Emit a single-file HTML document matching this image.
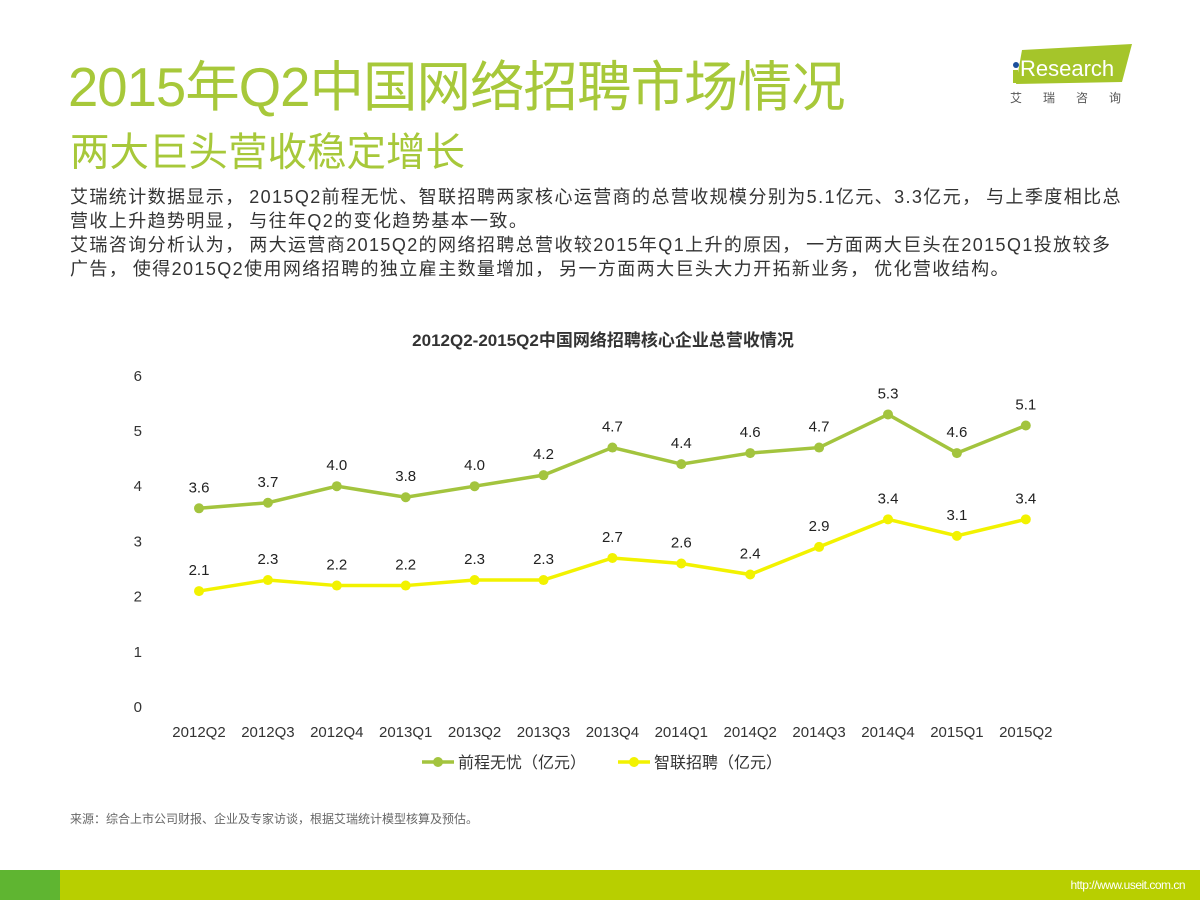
<!DOCTYPE html>
<html><head><meta charset="utf-8"><style>
body{margin:0;width:1200px;height:900px;position:relative;background:#fff;font-family:"Liberation Sans","Noto Sans CJK SC",sans-serif;overflow:hidden}
.t1{position:absolute;left:68px;top:43px;font-size:54.5px;color:#a7c83a;letter-spacing:-1px;white-space:nowrap}
.t2{position:absolute;left:70px;top:121px;font-size:39.5px;color:#a7c83a;white-space:nowrap}
.body{position:absolute;left:70px;top:185px;font-size:18px;line-height:24px;color:#333;white-space:nowrap;letter-spacing:1.4px}
.src{position:absolute;left:70px;top:810px;font-size:12px;color:#666}
</style></head><body>
<div class="t1">2015年Q2中国网络招聘市场情况</div>
<div class="t2">两大巨头营收稳定增长</div>
<div style="position:absolute;left:1008px;top:42px;width:130px;height:66px">
<svg width="130" height="66"><polygon points="14,8 124,2 114,40 8,42" fill="#a5c52a"/><circle cx="8" cy="23" r="3" fill="#1c4f9c"/><rect x="5" y="28" width="5" height="13" fill="#a5c52a"/><text x="12" y="34" font-size="22" fill="#fff" font-family="Liberation Sans">Research</text>
<text x="2" y="60" font-size="12" fill="#555" letter-spacing="21" font-family="Noto Sans CJK SC">艾瑞咨询</text></svg></div>
<div class="body">艾瑞统计数据显示<span style="letter-spacing:6px">，</span>2015Q2前程无忧、智联招聘两家核心运营商的总营收规模分别为5.1亿元、3.3亿元<span style="letter-spacing:6px">，</span>与上季度相比总<br>营收上升趋势明显<span style="letter-spacing:6px">，</span>与往年Q2的变化趋势基本一致。<br>艾瑞咨询分析认为<span style="letter-spacing:6px">，</span>两大运营商2015Q2的网络招聘总营收较2015年Q1上升的原因<span style="letter-spacing:6px">，</span>一方面两大巨头在2015Q1投放较多<br>广告<span style="letter-spacing:6px">，</span>使得2015Q2使用网络招聘的独立雇主数量增加<span style="letter-spacing:6px">，</span>另一方面两大巨头大力开拓新业务<span style="letter-spacing:6px">，</span>优化营收结构。</div>
<svg id="chart" width="1200" height="800" style="position:absolute;left:0;top:0" font-family="Liberation Sans, Noto Sans CJK SC, sans-serif"></svg>
<div class="src">来源：综合上市公司财报、企业及专家访谈，根据艾瑞统计模型核算及预估。</div>
<div style="position:absolute;left:0;top:870px;width:1200px;height:30px;background:#b8cf00"></div>
<div style="position:absolute;left:0;top:870px;width:60px;height:30px;background:#5fb531"></div>
<div style="position:absolute;right:15px;top:878px;font-size:12px;color:#fff;font-family:'Liberation Sans',sans-serif;letter-spacing:-0.5px">http://www.useit.com.cn</div>
<script>
const categories=["2012Q2","2012Q3","2012Q4","2013Q1","2013Q2","2013Q3","2013Q4","2014Q1","2014Q2","2014Q3","2014Q4","2015Q1","2015Q2"];
const series51job=[3.6,3.7,4.0,3.8,4.0,4.2,4.7,4.4,4.6,4.7,5.3,4.6,5.1];
const seriesZhaopin=[2.1,2.3,2.2,2.2,2.3,2.3,2.7,2.6,2.4,2.9,3.4,3.1,3.4];
const yTicks=[0,1,2,3,4,5,6];
const seriesNames=["前程无忧（亿元）","智联招聘（亿元）"];
const svg=document.getElementById('chart');const NS='http://www.w3.org/2000/svg';
function el(t,a,txt){const e=document.createElementNS(NS,t);for(const k in a)e.setAttribute(k,a[k]);if(txt!=null)e.textContent=txt;svg.appendChild(e);return e;}
const x=i=>199+i*68.9, y=v=>707-v*55.2;
const title=el('text',{x:603,y:346,'text-anchor':'middle','font-size':17,'font-weight':'bold',fill:'#333'},'2012Q2-2015Q2中国网络招聘核心企业总营收情况');

yTicks.forEach(v=>{const t=el('text',{x:142,y:y(v)+5,'text-anchor':'end','font-size':15,fill:'#333'},v);
});
categories.forEach((c,i)=>{const t=el('text',{x:x(i),y:737,'text-anchor':'middle','font-size':15,fill:'#333'},c);
});
function draw(data,color,name){
const p=el('polyline',{points:data.map((v,i)=>x(i)+','+y(v)).join(' '),fill:'none',stroke:color,'stroke-width':3.5});

data.forEach((v,i)=>{const c=el('circle',{cx:x(i),cy:y(v),r:5,fill:color});

const t=el('text',{x:x(i),y:y(v)-16,'text-anchor':'middle','font-size':15,fill:'#222'},v.toFixed(1));
});}
draw(series51job,'#a3c43e','qiancheng');
draw(seriesZhaopin,'#f2f200','zhilian');
[[422,'#a3c43e',0],[618,'#f2f200',1]].forEach(([lx,c,k])=>{
const l=el('line',{x1:lx,y1:762,x2:lx+32,y2:762,stroke:c,'stroke-width':3.5});
const d=el('circle',{cx:lx+16,cy:762,r:5,fill:c});
const t=el('text',{x:lx+36,y:768,'font-size':16,fill:'#333'},seriesNames[k]);});
</script>
</body></html>
